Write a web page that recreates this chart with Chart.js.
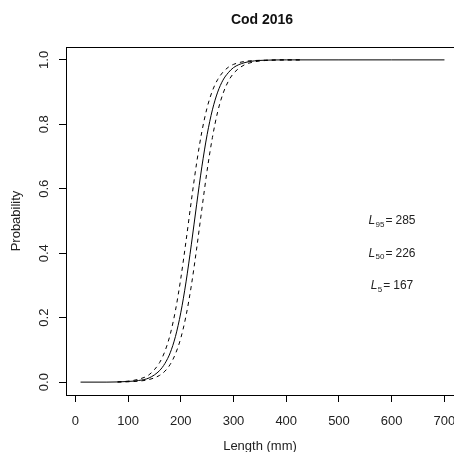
<!DOCTYPE html>
<html>
<head>
<meta charset="utf-8">
<script src="https://cdn.jsdelivr.net/npm/chart.js@4.4.0/dist/chart.umd.min.js"></script>
<style>
  html, body { margin: 0; padding: 0; background: #fff; overflow: hidden; }
</style>
</head>
<body>
<canvas id="ogive" width="454" height="452"></canvas>
<script>
// Cod 2016 maturity ogive

const fitLength = [10, 60, 100, 120, 140, 160, 170, 180, 190, 200, 210, 220, 230, 240, 250, 260, 270, 280, 290, 300, 320, 340, 360, 400, 500, 600, 700];
const fitProb   = [0.000, 0.000, 0.002, 0.005, 0.013, 0.036, 0.058, 0.091, 0.142, 0.215, 0.311, 0.426, 0.550, 0.668, 0.768, 0.845, 0.900, 0.937, 0.960, 0.976, 0.991, 0.997, 0.999, 1.000, 1.000, 1.000, 1.000];

const ciLength  = [80, 100, 120, 140, 160, 170, 180, 190, 200, 210, 220, 230, 240, 250, 260, 270, 280, 290, 300, 320, 340, 360, 400, 430];
const ciUpper   = [0.001, 0.003, 0.009, 0.023, 0.061, 0.096, 0.148, 0.223, 0.321, 0.438, 0.562, 0.679, 0.777, 0.852, 0.904, 0.939, 0.962, 0.977, 0.986, 0.995, 0.998, 0.999, 1.000, 1.000];
const ciLower   = [0.000, 0.001, 0.003, 0.008, 0.021, 0.034, 0.055, 0.088, 0.136, 0.206, 0.299, 0.413, 0.537, 0.657, 0.759, 0.839, 0.895, 0.933, 0.958, 0.984, 0.994, 0.998, 1.000, 1.000];

const xTicks = [0, 100, 200, 300, 400, 500, 600, 700];
const yTicks = [0, 0.2, 0.4, 0.6, 0.8, 1.0];

const labelNames  = ['95', '50', '5'];
const labelValues = [285, 226, 167];
const labelX = [600, 600, 600];
const labelY = [0.5, 0.4, 0.3];

const FONT = '"Liberation Sans", Arial, sans-serif';

function pts(xs, ys) {
  return xs.map((x, i) => ({ x: x, y: ys[i] }));
}

// top frame line, title, rotated y labels and the L-values
const extras = {
  id: 'extras',
  afterDraw(chart) {
    const ctx = chart.ctx;
    const a = chart.chartArea;
    const xs = chart.scales.x;
    const ys = chart.scales.y;
    ctx.save();
    ctx.strokeStyle = '#000';
    ctx.lineWidth = 1;
    ctx.beginPath();
    ctx.moveTo(Math.round(a.left), Math.round(a.top) + 0.5);
    ctx.lineTo(a.right, Math.round(a.top) + 0.5);
    ctx.stroke();

    ctx.fillStyle = '#111';
    ctx.font = 'bold 14px ' + FONT;
    ctx.textAlign = 'center';
    ctx.textBaseline = 'middle';
    ctx.fillText('Cod 2016', 262, 20);

    ctx.font = '13px ' + FONT;
    ctx.fillStyle = '#222';
    yTicks.forEach(v => {
      ctx.save();
      ctx.translate(44, ys.getPixelForValue(v));
      ctx.rotate(-Math.PI / 2);
      ctx.fillText(v.toFixed(1), 0, 0);
      ctx.restore();
    });

    labelNames.forEach((sub, i) => {
      const cx = xs.getPixelForValue(labelX[i]);
      const cy = ys.getPixelForValue(labelY[i]);
      const main = '12px ' + FONT, ital = 'italic 12px ' + FONT, small = '8px ' + FONT;
      ctx.font = ital; const wL = ctx.measureText('L').width;
      ctx.font = small; const wS = ctx.measureText(sub).width;
      ctx.font = main; const wE = ctx.measureText(' = ').width * 0.8;
      const wN = ctx.measureText(String(labelValues[i])).width;
      let x = cx - (wL + wS + wE + wN) / 2;
      ctx.textAlign = 'left';
      ctx.font = ital; ctx.fillText('L', x, cy); x += wL + 0.5;
      ctx.font = small; ctx.fillText(sub, x, cy + 4); x += wS;
      ctx.font = main; ctx.fillText('=', x + 1, cy); x += wE;
      ctx.fillText(String(labelValues[i]), x, cy);
    });
    ctx.restore();
  }
};

new Chart(document.getElementById('ogive'), {
  type: 'line',
  data: {
    datasets: [{
      label: 'fit',
      data: pts(fitLength, fitProb),
      borderColor: '#000',
      borderWidth: 1,
      pointRadius: 0,
      cubicInterpolationMode: 'monotone'
    }, {
      label: 'upper',
      data: pts(ciLength, ciUpper),
      borderColor: '#000',
      borderWidth: 1,
      borderDash: [4, 4],
      pointRadius: 0,
      cubicInterpolationMode: 'monotone'
    }, {
      label: 'lower',
      data: pts(ciLength, ciLower),
      borderColor: '#000',
      borderWidth: 1,
      borderDash: [4, 4],
      pointRadius: 0,
      cubicInterpolationMode: 'monotone'
    }]
  },
  options: {
    responsive: false,
    animation: false,
    layout: { padding: { top: 47, right: 0, bottom: 0, left: 0 } },
    plugins: {
      legend: { display: false },
      tooltip: { enabled: false }
    },
    scales: {
      x: {
        type: 'linear',
        min: -17.6,
        max: 718.1,
        afterFit: s => { s.height = 57; s.paddingLeft = 0; s.paddingRight = 0; },
        afterBuildTicks: s => { s.ticks = xTicks.map(v => ({ value: v })); },
        grid: { drawOnChartArea: false, drawTicks: true, tickLength: 7, color: '#000' },
        border: { display: true, color: '#000' },
        ticks: { color: '#222', font: { family: FONT, size: 13 }, padding: 12, maxRotation: 0 },
        title: { display: true, text: 'Length (mm)', color: '#222',
                 font: { family: FONT, size: 13, lineHeight: 0.8 }, padding: 0 }
      },
      y: {
        type: 'linear',
        min: -0.04,
        max: 1.04,
        afterFit: s => { s.width = 66; s.paddingTop = 0; s.paddingBottom = 0; },
        afterBuildTicks: s => { s.ticks = yTicks.map(v => ({ value: v })); },
        grid: { drawOnChartArea: false, drawTicks: true, tickLength: 7, color: '#000' },
        border: { display: true, color: '#000' },
        ticks: { display: false },
        title: { display: true, text: 'Probability', color: '#222',
                 font: { family: FONT, size: 13, lineHeight: 1 }, padding: { top: 10, bottom: 0 } }
      }
    }
  },
  plugins: [extras]
});
</script>
</body>
</html>
